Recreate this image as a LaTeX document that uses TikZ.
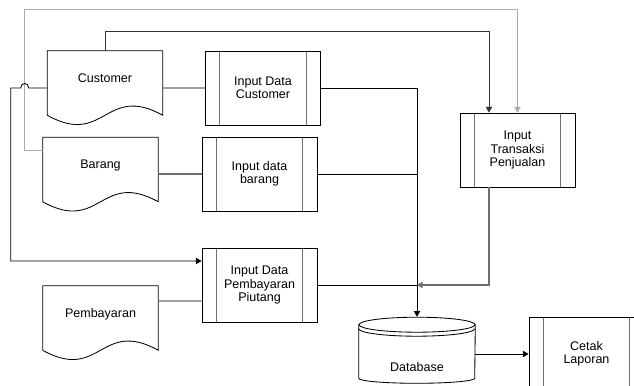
\documentclass[tikz,border=0pt]{standalone}
\usepackage{fontspec}
\setmainfont{Liberation Sans}
\usetikzlibrary{calc,arrows.meta}

\definecolor{abu}{HTML}{6E6E6E}
\definecolor{terang}{HTML}{ABABAB}

\tikzset{
  kotak/.style={draw=black, line width=.6pt},
  dokumen/.style={minimum width=2.875cm, minimum height=1.6cm, text depth=7pt, inner sep=0pt},
  proses/.style={kotak, minimum width=2.875cm, minimum height=1.85cm, align=center, inner sep=0pt,
    path picture={
      \draw[abu, line width=.6pt] ([xshift=.36cm]path picture bounding box.north west) -- ([xshift=.36cm]path picture bounding box.south west);
      \draw[abu, line width=.6pt] ([xshift=-.36cm]path picture bounding box.north east) -- ([xshift=-.36cm]path picture bounding box.south east);
    }},
  garis/.style={draw=black, line width=.6pt},
  garisabu/.style={draw=abu, line width=.8pt},
  garisterang/.style={draw=terang, line width=.6pt},
  >={Triangle[length=4pt,width=4.5pt]}
}

% bentuk dokumen dengan bawah bergelombang
\newcommand{\dokbentuk}[1]{
  \draw[kotak] (#1.south west) -- (#1.north west) -- (#1.north east) -- (#1.south east)
    .. controls ($(#1.south)+(0,-32)$) and ($(#1.south)+(0,32)$) .. (#1.south west);
}

\begin{document}
\begin{tikzpicture}[x=0.025cm, y=-0.025cm, font=\fontsize{8.9}{9.6}\selectfont]

    \useasboundingbox (0,0) rectangle (634,386);
    \clip (0,0) rectangle (634,386);

    % dokumen
    \node[dokumen] (cust) at (105,83) {Customer};
    \node[dokumen] (barang) at (100.5,169.5) {Barang};
    \node[dokumen] (bayar) at (100.5,318) {Pembayaran};

    \dokbentuk{cust}
    \dokbentuk{barang}
    \dokbentuk{bayar}

    % proses
    \node[proses] (idc) at (263,88) {Input Data\\Customer};
    \node[proses] (idb) at (259.5,174) {Input data\\barang};
    \node[proses] (idp) at (259.5,285) {Input Data\\Pembayaran\\Piutang};
    \node[proses] (trans) at (517.5,150) {Input\\Transaksi\\Penjualan};
    \node[proses] (cetak) at (586.5,354) {Cetak\\Laporan};

    % database
    \node[minimum width=2.9cm, minimum height=1.65cm, inner sep=0pt] (db) at (417,350) {};
    \draw[kotak] ($(db.north west)+(0,8)$) -- ($(db.south west)+(0,-5)$)
      arc[start angle=180, end angle=0, x radius=58, y radius=5] -- ($(db.north east)+(0,8)$);
    \draw[kotak] ($(db.north)+(0,8)$) ellipse[x radius=58, y radius=7.5];
    \draw[kotak] ($(db.north west)+(0,12)$) arc[start angle=180, end angle=0, x radius=58, y radius=7.5];
    \node[] (dbteks) at ($(db.center)+(0,17)$) {Database};

    % garis
    \draw[garisterang, ->] ([yshift=.4875cm]barang.west) -- ++(-18,0) -- ++(0,-141) -| (trans.north);
    \draw[garis, draw=black!80, ->] (cust.north) -- ++(0,-19) -| ([xshift=-.7125cm]trans.north);
    \draw[garis, ->] ([yshift=-.125cm]cust.west) -- ++(-18.5,0)
      .. controls +(0,-6) and +(0,-6) .. ++(-8,0) -- ++(-10,0) |- ([yshift=.6cm]idp.west);

    \draw[garisabu] ([yshift=-.125cm]cust.east) -- (idc.west);
    \draw[garisabu] (barang.east |- idb.west) -- (idb.west);
    \draw[garisabu] ([yshift=.425cm]bayar.east) -- ([yshift=-.4cm]idp.west);

    \draw[garis, ->] (idc.east) -| (db.north);
    \draw[garis] (idb.east) -- (idb.east -| db.north);
    \draw[garis] (idp.east) -- (idp.east -| db.north);
    \draw[garisabu, ->] ([xshift=-.7125cm]trans.south) |- (idp.east -| db.north);
    \draw[garis, ->] (db.east |- cetak.west) -- (cetak.west);

\end{tikzpicture}
\end{document}
